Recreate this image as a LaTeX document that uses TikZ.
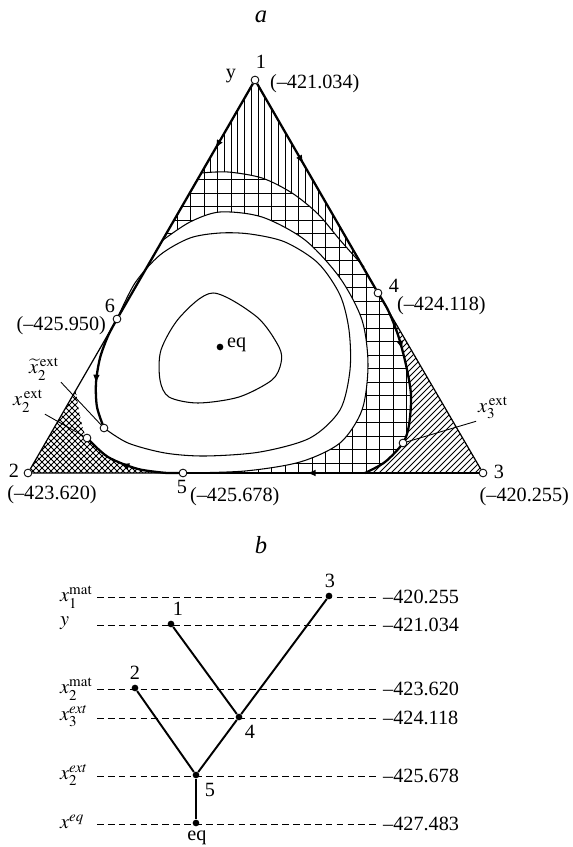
\documentclass[tikz,border=0pt]{standalone}
\usepackage{mathptmx}
\usepackage{fontspec}
\setmainfont{Liberation Serif}
\usepackage{tikz}
\usetikzlibrary{arrows.meta, positioning, decorations.markings}
\tikzset{
    vtx/.style={circle, draw, fill=white, line width=0.5pt, inner sep=0pt, minimum size=4.4pt},
    bdot/.style={circle, fill=black, inner sep=0pt, minimum size=3.8pt},
    side/.style={line width=0.7pt},
    traj/.style={line width=1.3pt},
    contour/.style={line width=0.6pt},
    hatch/.style={line width=0.45pt},
    leader/.style={line width=0.5pt},
    level/.style={line width=0.5pt, dash pattern=on 3.8pt off 2.4pt},
    branch/.style={line width=1.1pt},
    midarrow/.style={postaction={decorate, decoration={markings, mark=at position #1 with {\arrow{Latex[length=5pt, width=3.8pt]}}}}},
    num/.style={inner sep=1pt}
}

\begin{document}
\begin{tikzpicture}[x=0.02cm, y=-0.02cm, font=\fontsize{11.5}{13}\selectfont, line join=round]
    \useasboundingbox (0,0) rectangle (572,847);

    % ---- a ----
    \node (ta) at (261,17) {\fontsize{14}{16}\selectfont\textit{a}};

    % vertical hatching
    \begin{scope}
        \clip (255,80) -- plot[smooth] coordinates {(201,173) (228,172) (262,178) (292,193) (318,214) (340,240) (364,267)} -- cycle;
        \foreach \x in {150,156.75,...,380} \draw[hatch] (\x,60) -- (\x,290);
    \end{scope}
    % grid
    \begin{scope}
        \clip plot[smooth] coordinates {(201,173) (228,172) (262,178) (292,193) (318,214) (340,240) (364,267)}
            -- plot[smooth] coordinates {(378,293) (388,310) (398,335) (406,365) (411,395) (409,425) (403,443) (385,462) (365,473)}
            -- plot[smooth] coordinates {(183,473) (245,471) (300,462) (340,443) (362,410) (368,365) (362,320) (340,278) (305,240) (262,217) (220,212) (190,222) (163,240)}
            -- cycle;
        \foreach \x in {150,163.5,...,420} \draw[hatch] (\x,160) -- (\x,480);
        \foreach \y in {166,179.5,...,480} \draw[hatch] (150,\y) -- (420,\y);
    \end{scope}
    % diagonal hatching
    \begin{scope}
        \clip plot[smooth] coordinates {(378,293) (388,310) (398,335) (406,365) (411,395) (409,425) (403,443) (385,462) (365,473)} -- (483,473) -- cycle;
        \foreach \x in {150,156,...,500} \draw[hatch] (\x,480) -- ++(200,-200);
    \end{scope}
    % cross hatching
    \begin{scope}
        \clip (28,473) -- plot[smooth] coordinates {(76,391) (80,416) (87,438) (108,457) (138,469) (167,473)} -- cycle;
        \foreach \x in {-150,-144,...,350} {
            \draw[hatch] (\x,480) -- ++(150,-150);
            \draw[hatch] (\x,480) -- ++(-150,-150);
        }
    \end{scope}

    % level lines
    \draw[contour] plot[smooth] coordinates {(201,173) (228,172) (262,178) (292,193) (318,214) (340,240) (364,267)};
    \draw[contour] plot[smooth] coordinates {(163,240) (190,222) (220,212) (262,217) (305,240) (340,278) (362,320) (368,365) (362,410) (340,443) (300,462) (245,471) (183,473)};
    \draw[contour] plot[smooth] coordinates {(104,428) (128,443) (165,453) (205,456) (260,452) (310,438) (340,410) (350,370) (349,330) (340,295) (318,263) (285,242) (250,234) (220,233) (190,238) (160,255) (135,283) (117,319)};
    \draw[contour] plot[smooth cycle] coordinates {(213,293) (257,317) (279,347) (281,363) (272,380) (239,397) (198,403) (169,397) (160,380) (161,350) (180,317)};

    % trajectories inside
    \draw[traj, midarrow=0.3] plot[smooth] coordinates {(378,293) (388,310) (398,335) (406,365) (411,395) (409,425) (403,443) (385,462) (365,473)};
    \draw[traj, midarrow=0.6] plot[smooth] coordinates {(117,319) (108,336) (100,358) (96,383) (97,407) (104,428)};
    \draw[traj, midarrow=0.6] (183,473) -- plot[smooth] coordinates {(167,473) (138,469) (108,457) (87,438)};

    % points
    \node[vtx] (v1) at (255,80) {};
    \node[vtx] (v2) at (28,473) {};
    \node[vtx] (v3) at (483,473) {};
    \node[vtx] (v4) at (378,293) {};
    \node[vtx] (v5) at (183,473) {};
    \node[vtx] (v6) at (117,319) {};
    \node[vtx] (x2t) at (104,428) {};
    \node[vtx] (x2) at (87,438) {};
    \node[vtx] (x3) at (403,443) {};
    \node[bdot] (eq) at (220,347) {};

    % sides
    \draw[side] (v6) -- (v2) -- (v5);
    \draw[side] (v4) -- (v3);
    \draw[traj, midarrow=0.28] (v1) -- (v6);
    \draw[traj, midarrow=0.39] (v1) -- (v4);
    \draw[traj, midarrow=0.59] (v3) -- (v5);

    % labels
    \node[num] (l1) at (261,62) {1};
    \node[num] (ly) at (231,76) {y};
    \node[num, anchor=west] (e1) at (268,84) {(--421.034)};
    \node[num] (l2) at (14,471) {2};
    \node[num] (e2) at (52,495) {(--423.620)};
    \node[num] (l3) at (499,472) {3};
    \node[num, anchor=east] (e3) at (571,497) {(--420.255)};
    \node[num] (l4) at (394,286) {4};
    \node[num, anchor=west] (e4) at (395,306) {(--424.118)};
    \node[num] (l6) at (110,306) {6};
    \node[num, anchor=east] (e6) at (108,326) {(--425.950)};
    \node[num] (l5) at (182,487) {5};
    \node[num, anchor=west] (e5) at (188,497) {(--425.678)};
    \node[num, anchor=west] (leq) at (225,345) {eq};
    \node[num] (lx2t) at (44,369) {$\widetilde{x}_2^{\,\mathrm{ext}}$};
    \node[num] (lx2) at (28,401) {$x_2^{\,\mathrm{ext}}$};
    \node[num] (lx3) at (493,408) {$x_3^{\,\mathrm{ext}}$};
    \draw[leader] (lx2t.south east) -- (x2t);
    \draw[leader] (lx2.south east) -- (x2);
    \draw[leader] (lx3.south west) -- (x3);

    % ---- b ----
    \node (tb) at (261,545) {\fontsize{14}{16}\selectfont\textit{b}};
    \coordinate (dstart) at (97,0);

    \node[anchor=west] (vx1) at (377,597) {--420.255};
    \node[anchor=west] (vy) at (377,625) {--421.034};
    \node[anchor=west] (vx2m) at (377,689) {--423.620};
    \node[anchor=west] (vx3e) at (377,718) {--424.118};
    \node[anchor=west] (vx2e) at (377,776) {--425.678};
    \node[anchor=west] (vxeq) at (377,824) {--427.483};

    \node[anchor=west] (lx1) at (54,597) {$x_1^{\mathrm{mat}}$};
    \node[anchor=west] (lyb) at (54,623) {$y$};
    \node[anchor=west] (lx2m) at (54,689) {$x_2^{\mathrm{mat}}$};
    \node[anchor=west] (lx3e) at (54,716) {$x_3^{ext}$};
    \node[anchor=west] (lx2e) at (54,775) {$x_2^{ext}$};
    \node[anchor=west] (lxeq) at (54,822) {$x^{eq}$};

    \draw[level] (dstart |- vx1.west) -- (vx1.west);
    \draw[level] (dstart |- vy.west) -- (vy.west);
    \draw[level] (dstart |- vx2m.west) -- (vx2m.west);
    \draw[level] (dstart |- vx3e.west) -- (vx3e.west);
    \draw[level] (dstart |- vx2e.west) -- (vx2e.west);
    \draw[level] (dstart |- vxeq.west) -- (vxeq.west);

    \node[bdot] (b3) at (329,596) {};
    \node[bdot] (b1) at (171,624) {};
    \node[bdot] (b2) at (135,688) {};
    \node[bdot] (b4) at (239,717) {};
    \node[bdot] (b5) at (196,775) {};
    \node[bdot] (beq) at (196,823) {};

    \draw[branch] (b1) -- (b4);
    \draw[branch] (b3) -- (b4) -- (b5);
    \draw[branch] (b2) -- (b5);
    \draw[branch] (b5) -- (beq);

    \node[num] (n3) at (330,581) {3};
    \node[num] (n1) at (178,609) {1};
    \node[num] (n2) at (135,673) {2};
    \node[num] (n4) at (250,732) {4};
    \node[num] (n5) at (210,790) {5};
    \node[num] (neq) at (197,838) {eq};
\end{tikzpicture}
\end{document}
